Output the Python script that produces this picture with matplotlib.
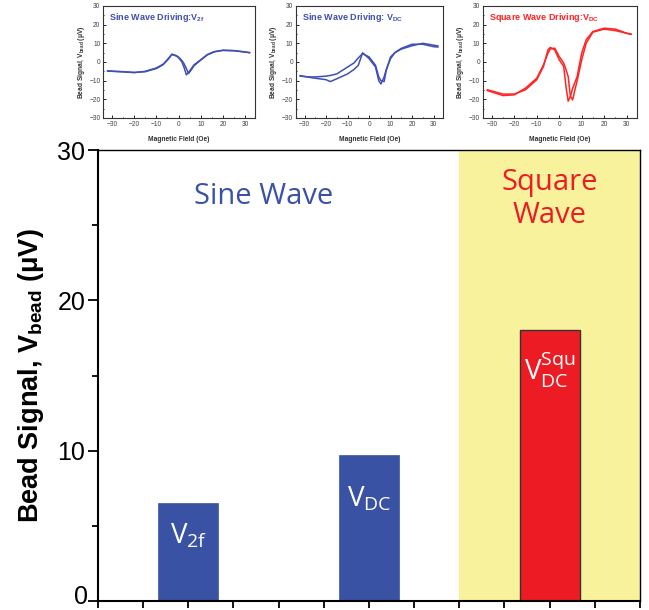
import numpy as np
import matplotlib.pyplot as plt
from matplotlib.ticker import MultipleLocator, FuncFormatter

plt.rcParams["font.family"] = ["Liberation Sans", "DejaVu Sans"]
plt.rcParams["mathtext.fontset"] = "custom"
plt.rcParams["mathtext.rm"] = "Open Sans"
plt.rcParams["mathtext.bf"] = "Liberation Sans:bold"
plt.rcParams["mathtext.it"] = "Open Sans:italic"

BLUE = "#3A52A4"
RED = "#ED1C24"
YELLOW = "#F8F29C"
LINE_BLUE = "#3F4FB3"
LINE_RED = "#FF2424"

# bar summary
bar_pos = [2, 6, 10]
bar_vals = [6.55, 9.7, 18.05]
bar_labels = ["V$_{\\mathrm{2f}}$", "V$_{\\mathrm{DC}}$", "V$^{\\mathrm{Squ}}_{\\mathrm{DC}}$"]
bar_label_y = [4.3, 6.8, 15.4]
bar_colors = [BLUE, BLUE, RED]

# field sweeps (Oe) and bead signal (uV), two sweep directions per panel
h_2f = [-32, -25, -20, -15, -10, -7, -5, -3, -1, 0, 1.5, 2.5, 3.5, 4.5, 5.5, 7, 10, 13, 16, 20, 25, 30, 32]
v2f_a = [-4.8, -5.2, -5.6, -5.2, -3.5, -1.5, 1.0, 4.0, 3.2, 2.3, 0.0, -3.0, -6.9, -5.6, -4.0, -1.5, 1.2, 4.0, 5.5, 6.2, 6.0, 5.3, 5.0]
v2f_b = [-4.9, -5.3, -5.7, -5.0, -3.2, -1.2, 1.3, 4.2, 3.4, 2.6, 0.8, -1.0, -3.5, -6.2, -4.6, -2.0, 1.0, 3.8, 5.4, 6.3, 6.1, 5.4, 5.0]

h_dc = [-32, -28, -25, -20, -18, -15, -10, -7, -5, -3, 0, 3, 4.5, 5.5, 7, 8, 10, 12, 15, 20, 25, 30, 32]
vdc_a = [-7.3, -8.2, -8.7, -9.5, -10.5, -9.0, -6.4, -4.0, -1.8, 4.9, 1.8, -2.7, -10.0, -11.8, -8.0, -4.0, 1.8, 5.0, 7.3, 9.5, 9.5, 8.2, 8.0]
vdc_b = [-7.6, -8.0, -8.0, -7.6, -7.2, -6.4, -2.7, -0.5, 2.2, 4.5, 2.7, -1.8, -8.0, -10.0, -10.5, -4.5, 2.7, 5.0, 6.9, 8.7, 10.0, 9.0, 8.6]

h_sq = [-32, -25, -20, -15, -10, -7, -5, -4, -2, 0, 2, 3, 4, 5, 6, 7, 8, 10, 12, 15, 20, 25, 30, 32]
vsq_a = [-14.9, -17.2, -17.2, -14.9, -9.5, -2.4, 6.5, 7.8, 6.5, 1.2, -2.4, -13.0, -21.0, -18.5, -14.0, -11.0, -7.8, 4.7, 11.9, 16.3, 18.1, 17.6, 15.4, 14.9]
vsq_b = [-15.3, -18.0, -17.6, -14.0, -8.7, -1.5, 4.7, 7.0, 7.4, 2.9, -0.6, -4.0, -7.8, -18.5, -20.3, -14.9, -10.0, 1.0, 10.0, 16.0, 17.6, 16.8, 15.4, 14.8]

insets = [
    ([0.159, 0.8066, 0.234, 0.1836], h_2f, v2f_a, v2f_b, LINE_BLUE,
     "Sine Wave Driving:V$_{\\mathbf{2f}}$"),
    ([0.456, 0.8066, 0.227, 0.1836], h_dc, vdc_a, vdc_b, LINE_BLUE,
     "Sine Wave Driving: V$_{\\mathbf{DC}}$"),
    ([0.744, 0.8066, 0.237, 0.1836], h_sq, vsq_a, vsq_b, LINE_RED,
     "Square Wave Driving:V$_{\\mathbf{DC}}$"),
]

fig = plt.figure(figsize=(6.49, 6.10), dpi=100)

# main bar chart
ax = fig.add_axes([0.151, 0.0148, 0.835, 0.739])
ax.axvspan(8, 12, color=YELLOW, zorder=0, lw=0)
ax.bar(bar_pos, bar_vals, width=1.33, color=bar_colors,
       edgecolor=[BLUE, BLUE, "#333333"], linewidth=[0.5, 0.5, 1.0], zorder=2)
for x, y, lab in zip(bar_pos, bar_label_y, bar_labels):
    ax.text(x, y, lab, ha="center", va="center", color="white",
            fontsize=20, family="Open Sans", zorder=3)

ax.text(3.67, 26.9, "Sine Wave", ha="center", va="center", color=BLUE,
        fontsize=21, family="Open Sans")
ax.text(10.0, 26.75, "Square\nWave", ha="center", va="center", color=RED,
        fontsize=21, family="Open Sans", linespacing=1.2)

ax.set_xlim(0, 12)
ax.set_ylim(0, 30)
ax.xaxis.set_major_locator(MultipleLocator(1))
ax.yaxis.set_major_locator(MultipleLocator(10))
ax.yaxis.set_minor_locator(MultipleLocator(5))
# the "0" label is drawn separately, nudged up so it stays on the canvas
ax.yaxis.set_major_formatter(FuncFormatter(lambda v, p: "" if v == 0 else f"{v:.0f}"))
ax.annotate("0", xy=(0, 0), xycoords=("axes fraction", "data"),
            xytext=(-7, 3), textcoords="offset points",
            ha="right", va="center", fontsize=18, annotation_clip=False)
ax.tick_params(axis="x", direction="out", length=5, width=1.3, labelbottom=False)
ax.tick_params(axis="y", which="major", direction="out", length=7, width=1.3,
               labelsize=18, pad=2)
ax.tick_params(axis="y", which="minor", direction="out", length=4, width=1.3)
for s in ax.spines.values():
    s.set_linewidth(1.5)
ax.spines["right"].set_linewidth(1.0)
ax.spines["top"].set_linewidth(1.0)
ax.set_ylabel("Bead Signal, V$_{\\mathbf{bead}}$ (μV)", fontsize=19.5,
              fontweight="bold", labelpad=8)

# field sweep panels
for rect, h, va, vb, col, title in insets:
    ia = fig.add_axes(rect)
    ia.plot(h, va, color=col, lw=1.1)
    ia.plot(h, vb, color=col, lw=1.1)
    ia.set_xlim(-34, 34.5)
    ia.set_ylim(-30, 30)
    ia.xaxis.set_major_locator(MultipleLocator(10))
    ia.xaxis.set_minor_locator(MultipleLocator(5))
    ia.yaxis.set_major_locator(MultipleLocator(10))
    ia.yaxis.set_minor_locator(MultipleLocator(5))
    ia.tick_params(which="both", direction="in", width=0.6, labelsize=4.8,
                   labelcolor="#444444", pad=2)
    ia.tick_params(which="major", length=2)
    ia.tick_params(which="minor", length=1)
    for s in ia.spines.values():
        s.set_linewidth(0.8)
        s.set_color("#333333")
    ia.set_xlabel("Magnetic Field (Oe)", fontsize=4.8, fontweight="bold",
                  color="#333333", labelpad=6)
    ia.set_ylabel("Bead Signal, V$_{\\mathbf{bead}}$ (μV)", fontsize=4.8,
                  fontweight="bold", color="#333333", labelpad=2)
    ia.text(0.04, 0.9, title, transform=ia.transAxes, color=col,
            fontsize=6.5, fontweight="bold", ha="left", va="center")

fig.savefig("out.png", dpi=100)
